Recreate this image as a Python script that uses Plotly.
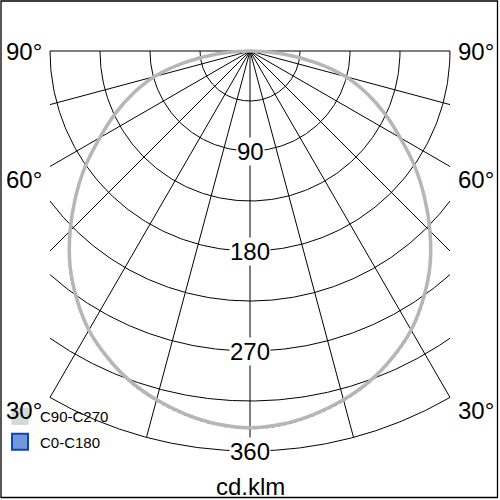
import numpy as np
import plotly.graph_objects as go

# ---------------- data ----------------
gamma_deg = [-90, -85, -80, -75, -70, -65, -60, -55, -50, -45, -40, -35, -30, -25, -20, -15, -10, -5,
             0, 5, 10, 15, 20, 25, 30, 35, 40, 45, 50, 55, 60, 65, 70, 75, 80, 85, 90]
c90_c270 = [0, 30, 60, 89, 112, 134, 156, 181, 205, 229, 252, 272, 290, 304, 316, 325, 332, 337,
            339, 337, 332, 325, 316, 304, 290, 272, 252, 229, 205, 181, 156, 134, 112, 89, 60, 30, 0]
c0_c180 = [0, 31, 61, 90, 113, 135, 157, 182, 206, 230, 253, 273, 291, 305, 317, 326, 333, 338,
           340, 338, 333, 326, 317, 305, 291, 273, 253, 230, 206, 182, 157, 135, 113, 90, 61, 31, 0]
series_names = ["C90-C270", "C0-C180"]

ring_values = [45, 90, 135, 180, 225, 270, 315, 360]
ring_labels = [90, 180, 270, 360]
spoke_angles = [-90, -75, -60, -45, -30, -15, 0, 15, 30, 45, 60, 75, 90]
angle_label_values = [90, 60, 30]
unit_label = "cd.klm"

# ---------------- layout constants ----------------
R_MAX = 360.0
HALF_W = 180.0
FONT = "Liberation Sans, Arial, sans-serif"


def to_xy(r, g):
    g = np.radians(np.asarray(g, dtype=float))
    r = np.asarray(r, dtype=float)
    return r * np.sin(g), -r * np.cos(g)


fig = go.Figure()

# grid: spokes
gx, gy = [], []
for a in spoke_angles:
    s = abs(np.sin(np.radians(a)))
    r_end = R_MAX if s < 1e-9 else min(R_MAX, HALF_W / s)
    x, y = to_xy([0, r_end], [a, a])
    gx += list(x) + [None]
    gy += list(y) + [None]
# grid: rings
for R in ring_values:
    gmax = 90.0 if R <= HALF_W else np.degrees(np.arcsin(HALF_W / R))
    gg = np.linspace(-gmax, gmax, 241)
    x, y = to_xy(np.full_like(gg, R), gg)
    gx += list(x) + [None]
    gy += list(y) + [None]
fig.add_trace(go.Scatter(x=gx, y=gy, mode="lines", line=dict(color="black", width=1),
                         hoverinfo="skip", showlegend=False))

# curves
bx, by = to_xy(c0_c180, gamma_deg)
fig.add_trace(go.Scatter(x=bx, y=by, mode="lines", line=dict(color="#2a55c8", width=1.1, dash="dot"),
                         line_shape="spline", showlegend=False, name=series_names[1]))
ax_, ay_ = to_xy(c90_c270, gamma_deg)
fig.add_trace(go.Scatter(x=ax_, y=ay_, mode="lines", line=dict(color="#b6b6b6", width=3.5),
                         line_shape="spline", showlegend=False, name=series_names[0]))

# legend entries
fig.add_trace(go.Scatter(x=[None], y=[None], mode="markers", name=series_names[0], legendgroup="a",
                         marker=dict(symbol="square", size=16, color="#d8d8d8",
                                     line=dict(color="#cfcfcf", width=1))))
fig.add_trace(go.Scatter(x=[None], y=[None], mode="markers", name=series_names[1], legendgroup="b",
                         marker=dict(symbol="square", size=16, color="#7396dc",
                                     line=dict(color="#0c46b4", width=2))))

# ring labels
for v in ring_labels:
    fig.add_annotation(x=0, y=-v, text=str(v), showarrow=False, bgcolor="white", borderpad=0,
                       font=dict(family=FONT, size=24, color="black"))

# angle labels
for a in angle_label_values:
    s = np.sin(np.radians(a))
    r_end = min(R_MAX, HALF_W / s)
    _, yy = to_xy([r_end], [a])
    shift = 0 if a == 90 else -13
    for side in (-1, 1):
        fig.add_annotation(x=side * HALF_W, y=float(yy[0]), text=f"{a}°", showarrow=False,
                           xanchor="right" if side < 0 else "left", xshift=-6 * (side < 0) + 6 * (side > 0),
                           yshift=shift, font=dict(family=FONT, size=24, color="black"))

# unit label
fig.add_annotation(x=0, y=-R_MAX, text=unit_label, showarrow=False, yshift=-35,
                   font=dict(family=FONT, size=24, color="black"))

# frame
fig.add_shape(type="rect", xref="paper", yref="paper", x0=0.002, x1=0.995, y0=0.005, y1=0.998,
              line=dict(color="black", width=1.3))

fig.update_layout(
    width=500, height=500, margin=dict(l=0, r=0, t=0, b=0, autoexpand=False),
    paper_bgcolor="white", plot_bgcolor="white",
    xaxis=dict(range=[-225, 225], visible=False, fixedrange=True),
    yaxis=dict(range=[-404.1, 45.9], visible=False, fixedrange=True),
    showlegend=True,
    legend=dict(x=0.0, y=0.2, xanchor="left", yanchor="top", bgcolor="rgba(0,0,0,0)",
                font=dict(family=FONT, size=15, color="black"), tracegroupgap=3,
                traceorder="grouped", itemwidth=30),
    font=dict(family=FONT),
)

fig.write_html("out.html", config={"displayModeBar": False},
               post_script="document.body.style.margin='0';")
